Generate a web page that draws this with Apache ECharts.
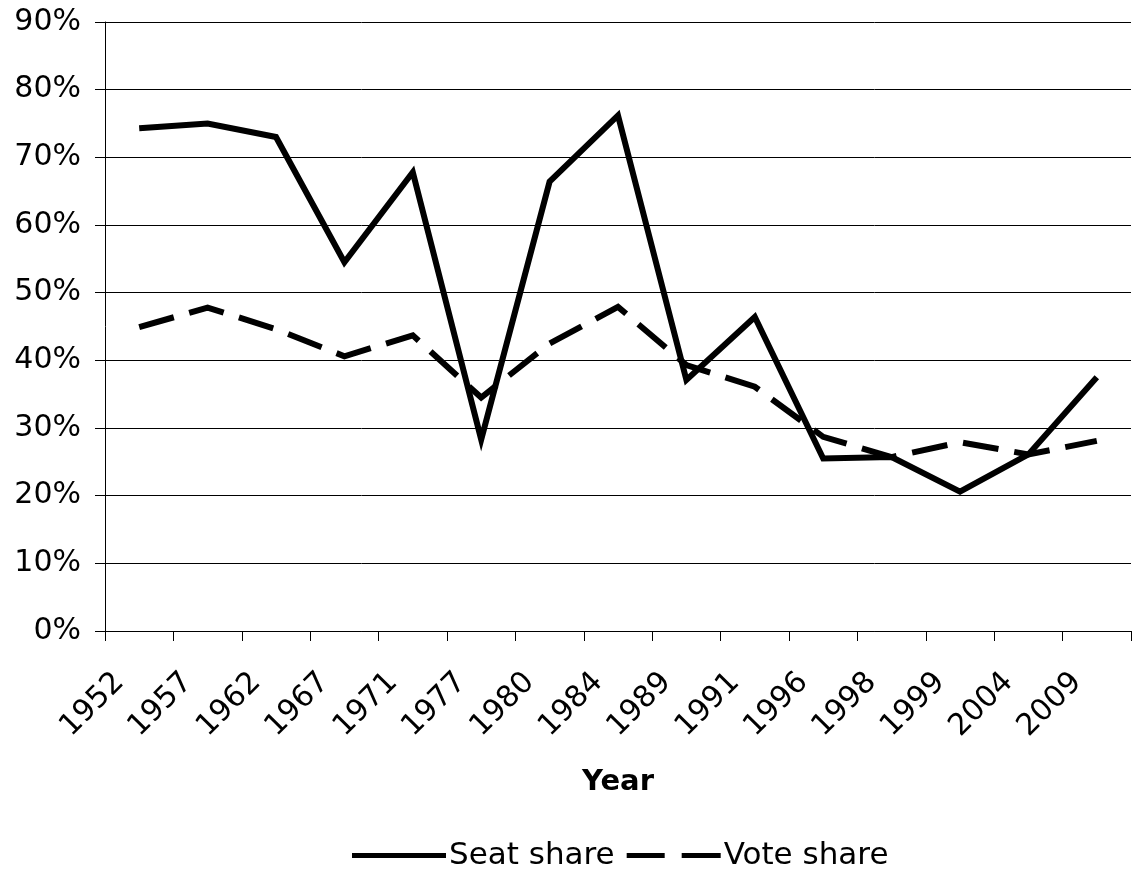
<!DOCTYPE html>
<html>
<head>
<meta charset="utf-8">
<script src="https://cdn.jsdelivr.net/npm/echarts@6/dist/echarts.min.js"></script>
<style>
  html, body { margin: 0; padding: 0; background: #fff; }
  #chart { width: 1132px; height: 873px; }
</style>
</head>
<body>
<div id="chart"></div>
<script>
// election years
const years = ['1952', '1957', '1962', '1967', '1971', '1977', '1980', '1984', '1989', '1991', '1996', '1998', '1999', '2004', '2009'];
// shares, as fractions
const seatShare = [0.743, 0.750, 0.730, 0.545, 0.678, 0.283, 0.664, 0.762, 0.371, 0.464, 0.255, 0.257, 0.206, 0.261, 0.375];
const voteShare = [0.449, 0.478, 0.446, 0.406, 0.437, 0.345, 0.425, 0.479, 0.393, 0.361, 0.287, 0.257, 0.279, 0.261, 0.281];

const FONT = 'DejaVu Sans';

const chart = echarts.init(document.getElementById('chart'));

const option = {
  backgroundColor: '#fff',
  animation: false,
  textStyle: { fontFamily: FONT, color: '#000' },
  grid: {
    left: 105,
    right: 1,
    top: 22,
    bottom: 242
  },
  legend: {
    left: 347,
    top: 835,
    itemWidth: 94,
    itemHeight: 5,
    itemGap: 12,
    textStyle: { fontFamily: FONT, fontSize: 31, color: '#000', padding: [0, 0, 0, -2] },
    data: [
      { name: 'Seat share', icon: 'path://M0,0H94V5H0Z' },
      { name: 'Vote share', icon: 'path://M0,0H38V5H0Z M55,0H94V5H55Z' }
    ]
  },
  xAxis: {
    type: 'category',
    data: years,
    boundaryGap: true,
    name: 'Year',
    nameLocation: 'middle',
    nameGap: 137,
    nameTextStyle: { fontFamily: FONT, fontSize: 29, fontWeight: 'bold', color: '#000' },
    axisLine: { lineStyle: { color: '#000', width: 1 } },
    axisTick: { show: true, length: 10, inside: false, lineStyle: { color: '#000' } },
    axisLabel: {
      rotate: 45,
      margin: 27,
      padding: [0, 28, 0, 0],
      fontFamily: FONT,
      fontSize: 30,
      color: '#000',
      interval: 0
    },
    splitLine: { show: false }
  },
  yAxis: {
    type: 'value',
    min: 0,
    max: 0.9,
    interval: 0.1,
    axisLine: { show: true, lineStyle: { color: '#000', width: 1 } },
    axisTick: { show: true, length: 10, lineStyle: { color: '#000' } },
    axisLabel: {
      margin: 24,
      fontFamily: FONT,
      fontSize: 30,
      color: '#000',
      formatter: v => Math.round(v * 100) + '%'
    },
    splitLine: { show: true, lineStyle: { color: '#000', width: 1 } }
  },
  series: [
    {
      name: 'Seat share',
      type: 'line',
      data: seatShare,
      symbol: 'none',
      lineStyle: { color: '#000', width: 6, join: 'miter' },
      itemStyle: { color: '#000' }
    },
    {
      name: 'Vote share',
      type: 'line',
      data: voteShare,
      symbol: 'none',
      lineStyle: { color: '#000', width: 6, type: [36, 16], join: 'miter' },
      itemStyle: { color: '#000' }
    }
  ]
};

chart.setOption(option);
</script>
</body>
</html>
